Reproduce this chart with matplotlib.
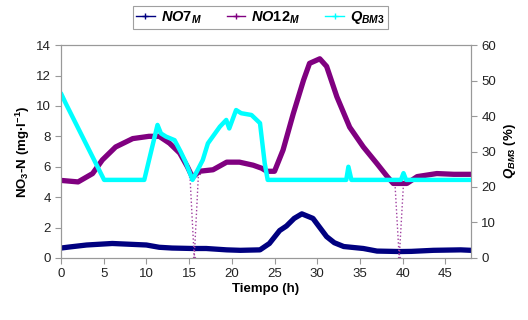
import matplotlib
matplotlib.use("Agg")
import matplotlib.pyplot as plt
from matplotlib.lines import Line2D

plt.rcParams['font.family'] = ['Liberation Sans', 'DejaVu Sans']
plt.rcParams['mathtext.fontset'] = 'custom'
plt.rcParams['mathtext.rm'] = 'Liberation Sans:bold'
plt.rcParams['mathtext.it'] = 'Liberation Sans:italic:bold'
plt.rcParams['mathtext.bf'] = 'Liberation Sans:bold'

# NO7_M (mg/l)
t_no7 = [0, 1, 3, 6, 8, 10, 11.5, 13, 15.4, 17, 19.4, 21, 23.3, 24.4, 25.6, 26.4,
         27.3, 28.2, 29.5, 30.3, 31.1, 32, 33.1, 35.4, 37, 39.7, 41, 43.6, 46.8, 48]
no7 = [0.65, 0.72, 0.85, 0.95, 0.9, 0.85, 0.7, 0.65, 0.62, 0.62, 0.53, 0.5, 0.53, 0.95,
       1.8, 2.1, 2.6, 2.9, 2.6, 2.0, 1.4, 1.0, 0.75, 0.62, 0.45, 0.42, 0.43, 0.5, 0.53, 0.5]

# NO12_M (mg/l)
t_no12 = [0, 2, 3.7, 4.85, 6.4, 8.4, 10.3, 11.5, 12.7, 13.9, 14.8, 15.4, 16.2, 17.8,
          19.4, 20.9, 22.5, 23.5, 24.1, 25, 26, 27.2, 28.4, 29.1, 30.3, 31.1, 32.3,
          33.8, 35.4, 37, 38.2, 38.9, 40.5, 41.7, 44, 46, 48]
no12 = [5.1, 5.0, 5.55, 6.45, 7.3, 7.85, 8.0, 8.0, 7.55, 6.9, 6.0, 5.3, 5.7, 5.8,
        6.3, 6.3, 6.1, 5.9, 5.7, 5.7, 7.1, 9.5, 11.7, 12.8, 13.1, 12.6, 10.6,
        8.6, 7.3, 6.2, 5.35, 4.9, 4.9, 5.35, 5.55, 5.5, 5.5]
# NO12_M sensor drops
t_dip1 = [15.1, 15.6, 16.1]
dip1 = [5.4, 0.0, 5.6]
t_dip2 = [39.1, 39.6, 40.1]
dip2 = [4.9, 0.0, 4.9]

# Q_BM3 (%)
t_q = [0, 0.55, 5.05, 9.75, 11.3, 11.7, 12.3, 13.3, 14.0, 14.6, 15.4, 16.6, 17.2, 18.6,
       19.35, 19.7, 20.5, 21.1, 22.3, 23.3, 23.85, 24.2, 33.4, 33.65, 34.0, 39.8, 40.1,
       40.4, 48]
q = [46.4, 43.6, 22, 22, 37.5, 35.1, 34.2, 33.2, 30, 27, 22, 27.6, 32.3, 37,
     38.9, 36.5, 41.7, 40.8, 40.3, 38, 26.7, 22, 22, 25.7, 22, 22, 23.9,
     22, 22]

x_ticks = [0, 5, 10, 15, 20, 25, 30, 35, 40, 45]
y_ticks = [0, 2, 4, 6, 8, 10, 12, 14]
y2_ticks = [0, 10, 20, 30, 40, 50, 60]

c_no7 = '#000080'
c_no12 = '#800080'
c_q = '#00FFFF'
spine_c = '#999999'

fig = plt.figure(figsize=(5.28, 3.2), dpi=100)
ax = fig.add_axes([0.1155, 0.194, 0.7765, 0.665])
ax2 = ax.twinx()

ax.plot(t_no7, no7, color=c_no7, lw=3.8, solid_capstyle='round', solid_joinstyle='round')
ax.plot(t_dip1, dip1, color='#a040a0', lw=1, ls=':', marker='x', ms=2, mew=0.8)
ax.plot(t_dip2, dip2, color='#a040a0', lw=1, ls=':', marker='x', ms=2, mew=0.8)
ax.plot(t_no12, no12, color=c_no12, lw=3.8, solid_capstyle='round', solid_joinstyle='round')
ax2.plot(t_q, q, color=c_q, lw=3.2, solid_capstyle='round', solid_joinstyle='round')

ax.set_xlim(0, 48)
ax.set_ylim(0, 14)
ax2.set_ylim(0, 60)
ax.set_xticks(x_ticks)
ax.set_yticks(y_ticks)
ax2.set_yticks(y2_ticks)

for a in (ax, ax2):
    for s in a.spines.values():
        s.set_color(spine_c)
        s.set_linewidth(0.8)
    a.tick_params(colors=spine_c, labelcolor='#222222', labelsize=9.5, length=4, width=0.8)

ax.set_xlabel('Tiempo (h)', fontsize=9.5, fontweight='bold', labelpad=2)
ax.set_ylabel(r'NO$_\mathrm{3}$-N (mg·l$^\mathrm{-1}$)', fontsize=9.5, fontweight='bold', labelpad=3)
ax2.set_ylabel(r'$Q_{BM3}$ (%)', fontsize=9.5, fontweight='bold', labelpad=4, rotation=90)

handles = [
    Line2D([], [], color=c_no7, lw=1, marker='+', ms=4),
    Line2D([], [], color=c_no12, lw=1, marker='+', ms=4),
    Line2D([], [], color=c_q, lw=1, marker='+', ms=4),
]
labels = [r'$NO7_M$', r'$NO12_M$', r'$Q_{BM3}$']
leg = fig.legend(handles, labels, loc='center', bbox_to_anchor=(0.493, 0.945), ncol=3,
                 fontsize=10.5, frameon=True, fancybox=False, edgecolor='#888888',
                 handlelength=1.3, columnspacing=1.7, borderpad=0.2, handletextpad=0.4)
leg.get_frame().set_linewidth(0.8)

fig.savefig('out.png', dpi=100)
